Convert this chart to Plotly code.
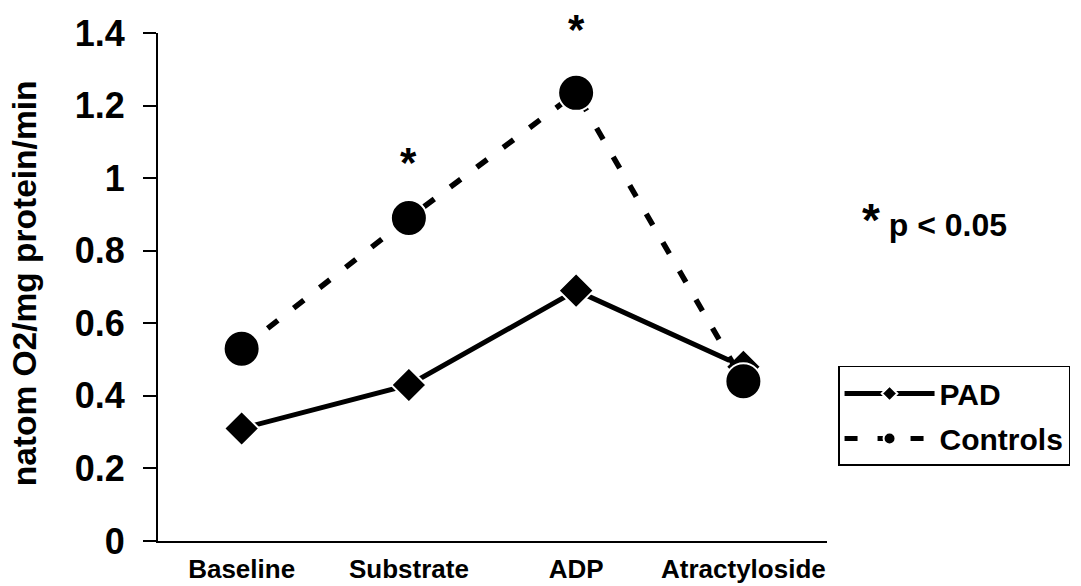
import plotly.graph_objects as go

categories = ["Baseline", "Substrate", "ADP", "Atractyloside"]
pad_values = [0.31, 0.43, 0.69, 0.48]
control_values = [0.53, 0.89, 1.235, 0.44]
y_ticks = [0, 0.2, 0.4, 0.6, 0.8, 1.0, 1.2, 1.4]
y_tick_labels = ["0", "0.2", "0.4", "0.6", "0.8", "1", "1.2", "1.4"]
sig_categories = ["Substrate", "ADP"]
sig_y = [1.114, 1.48]
Y_MAX = 1.4

FONT = "Liberation Sans, Arial, sans-serif"

fig = go.Figure()
fig.add_trace(go.Scatter(
    x=categories, y=pad_values, name="<b>PAD</b>", mode="lines+markers",
    legendgroup="pad",
    line=dict(color="black", width=5),
    marker=dict(symbol="diamond", size=27, color="black", line=dict(color="white", width=2)),
))
fig.add_trace(go.Scatter(
    x=categories, y=control_values, name="<b>Controls</b>", mode="lines+markers",
    legendgroup="ctl",
    line=dict(color="black", width=5.5, dash="13px,20px"),
    marker=dict(symbol="circle", size=36, color="black", line=dict(color="white", width=2)),
))

for c, yv in zip(sig_categories, sig_y):
    fig.add_annotation(x=c, xref="x", y=yv / Y_MAX, yref="paper", yanchor="top",
                       text="<b>*</b>", showarrow=False,
                       font=dict(size=42, color="black", family=FONT))

fig.add_annotation(xref="paper", yref="paper", x=1.05, y=0.632, xanchor="left",
                   yanchor="middle",
                   text="<b><span style='font-size:46px'>*</span> p &lt; 0.05</b>",
                   showarrow=False, font=dict(size=32, color="black", family=FONT))

fig.add_annotation(xref="paper", yref="paper", x=-0.199, y=0.507, textangle=-90,
                   xanchor="center", yanchor="middle",
                   text="<b>natom O2/mg protein/min</b>", showarrow=False,
                   font=dict(size=33.5, color="black", family=FONT))

fig.update_layout(
    width=1073, height=578,
    margin=dict(l=150, r=253, t=25, b=45),
    plot_bgcolor="white", paper_bgcolor="white",
    font=dict(family=FONT, color="black"),
    showlegend=True,
    legend=dict(x=1.015, y=0.3445, xanchor="left", yanchor="top",
                bordercolor="black", borderwidth=1.5,
                font=dict(size=30, family=FONT, color="black"),
                itemsizing="constant", itemwidth=90,
                traceorder="grouped", tracegroupgap=3),
    xaxis=dict(range=[-0.5, 3.5], showline=True, linecolor="black", linewidth=2,
               ticks="", showgrid=False, zeroline=False, automargin=False,
               tickfont=dict(size=26, family=FONT), ticklabelstandoff=4,
               tickvals=categories, ticktext=["<b>%s</b>" % c for c in categories]),
    yaxis=dict(range=[0, Y_MAX], showline=True, linecolor="black", linewidth=2,
               ticks="outside", ticklen=13, tickwidth=2, tickcolor="black",
               showgrid=False, zeroline=False, automargin=False,
               tickvals=y_ticks, ticktext=["<b>%s</b>" % t for t in y_tick_labels],
               tickfont=dict(size=36, family=FONT), ticklabelstandoff=11),
)

fig.write_html("out.html")
